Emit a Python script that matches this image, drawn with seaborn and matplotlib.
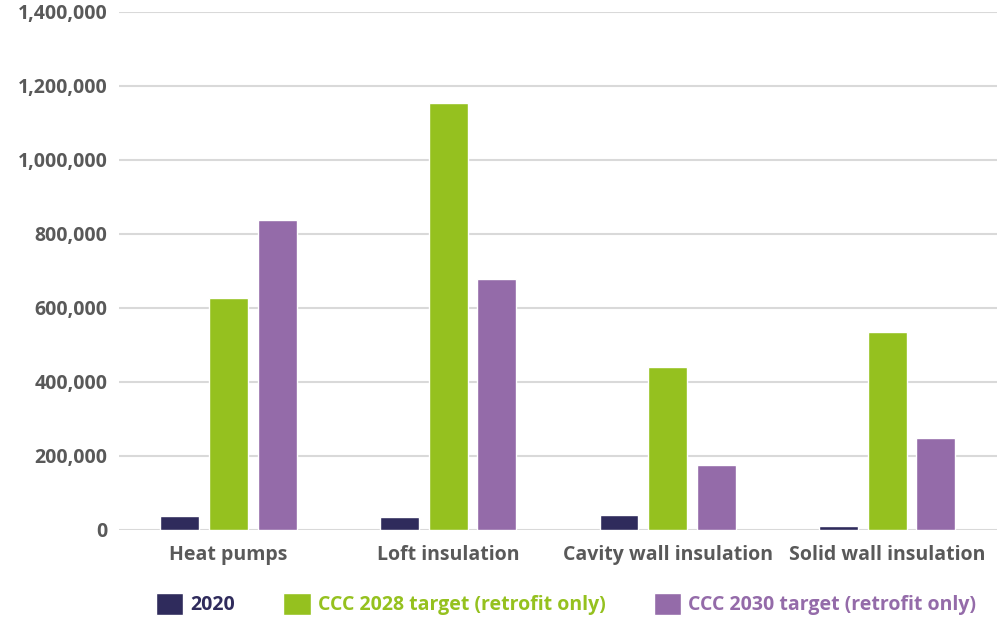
import matplotlib
matplotlib.use("Agg")
import matplotlib.pyplot as plt
import matplotlib.ticker as mticker
from matplotlib.patches import Patch
import seaborn as sns
import pandas as pd

##################
#Data#############
##################

categories = ['Heat pumps', 'Loft insulation', 'Cavity wall insulation', 'Solid wall insulation']
series = ['2020', 'CCC 2028 target (retrofit only)', 'CCC 2030 target (retrofit only)']

vals_2020 = [38000, 34000, 41000, 11000]
vals_2028 = [627000, 1153000, 440000, 535000]
vals_2030 = [838000, 678000, 175000, 249000]

colors = ['#2F2B5C', '#95C11F', '#946BA9']
text_grey = '#595959'

rows = []
for name, vals in zip(series, [vals_2020, vals_2028, vals_2030]):
    for cat, v in zip(categories, vals):
        rows.append({'category': cat, 'series': name, 'value': v})
df = pd.DataFrame(rows)

##################
#Plot#############
##################

sns.set_style('white')
plt.rcParams['font.family'] = ['Open Sans', 'DejaVu Sans']

fig = plt.figure(figsize=(10.07, 6.18), dpi=100)
ax = fig.add_axes([0.118, 0.1424, 0.872, 0.8382])

sns.barplot(data=df, x='category', y='value', hue='series', order=categories,
            hue_order=series, palette=colors, width=0.665, gap=0.2,
            saturation=1, legend=False, ax=ax)

ax.set_ylim(0, 1400000)
ax.set_yticks(range(0, 1400001, 200000))
ax.yaxis.set_major_formatter(mticker.FuncFormatter(lambda v, p: '{:,.0f}'.format(v)))
ax.grid(axis='y', color='#D9D9D9', linewidth=1.5)
ax.set_axisbelow(True)
for s in ax.spines.values():
    s.set_visible(False)

ax.set_xlabel('')
ax.set_ylabel('')
ax.tick_params(axis='both', length=0, labelcolor=text_grey, labelsize=14)
ax.tick_params(axis='y', pad=8)
ax.tick_params(axis='x', pad=11)
for lab in ax.get_xticklabels() + ax.get_yticklabels():
    lab.set_fontweight('bold')

handles = [Patch(facecolor=c, label=s) for c, s in zip(colors, series)]
leg = fig.legend(handles=handles, loc='center left', bbox_to_anchor=(0.155, 1 - 604 / 618),
                 ncol=3, frameon=False, handlelength=1.4, handleheight=1.4,
                 handletextpad=0.35, columnspacing=2.5, borderaxespad=0,
                 borderpad=0, prop={'weight': 'bold', 'size': 14})
for t, c in zip(leg.get_texts(), colors):
    t.set_color(c)

plt.savefig('out.png', dpi=100)
plt.close()
